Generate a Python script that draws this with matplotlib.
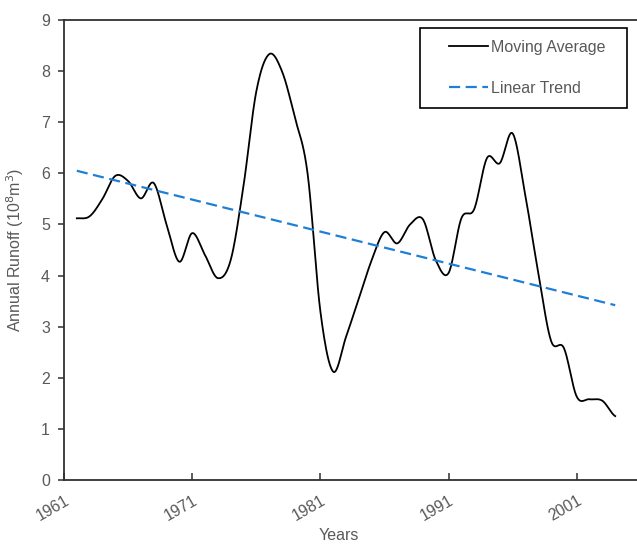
import numpy as np
import matplotlib
matplotlib.use("Agg")
import matplotlib.pyplot as plt
import matplotlib.transforms as mtransforms
from matplotlib.lines import Line2D
from matplotlib.legend_handler import HandlerLine2D

plt.rcParams['font.family'] = ['Liberation Sans', 'DejaVu Sans']

# annual runoff, 5-year moving average (10^8 m3)
years = np.arange(1962, 2005)
moving_avg = [5.12, 5.16, 5.50, 5.95, 5.85, 5.51, 5.81, 5.00, 4.27, 4.83,
              4.40, 3.95, 4.30, 5.75, 7.60, 8.33, 8.00, 7.10, 6.00, 3.30,
              2.12, 2.80, 3.55, 4.30, 4.85, 4.63, 5.00, 5.10, 4.30, 4.05,
              5.12, 5.30, 6.30, 6.20, 6.78, 5.55, 4.05, 2.72, 2.58, 1.63,
              1.58, 1.55, 1.25]
trend_years = [1962, 2004]
trend_vals = [6.05, 3.42]
xtick_years = [1961, 1971, 1981, 1991, 2001]


def smooth(x, y, n=20):
    # catmull-rom curve through the yearly points, like a smoothed line chart
    x = np.asarray(x, float)
    y = np.asarray(y, float)
    px = np.concatenate([[2 * x[0] - x[1]], x, [2 * x[-1] - x[-2]]])
    py = np.concatenate([[y[0]], y, [y[-1]]])
    xs, ys = [], []
    t = np.linspace(0, 1, n, endpoint=False)
    for i in range(1, len(px) - 2):
        for p, out in ((px, xs), (py, ys)):
            p0, p1, p2, p3 = p[i - 1], p[i], p[i + 1], p[i + 2]
            out.extend(0.5 * (2 * p1 + (-p0 + p2) * t
                              + (2 * p0 - 5 * p1 + 4 * p2 - p3) * t ** 2
                              + (-p0 + 3 * p1 - 3 * p2 + p3) * t ** 3))
    xs.append(x[-1])
    ys.append(y[-1])
    return np.array(xs), np.array(ys)


fig = plt.figure(figsize=(6.37, 5.47), dpi=100)
ax = fig.add_axes([64 / 637, 67 / 547, 573 / 637, 460 / 547])

sx, sy = smooth(years, moving_avg)
ax.plot(sx, sy, color='black', lw=1.3, label='Moving Average  ')
ax.plot(trend_years, trend_vals, color='#1f7fd6', lw=1.6,
        dashes=(5, 2.5), label='Linear Trend')

ax.set_xlim(1961, 2005.7)
ax.set_ylim(0, 9)
ax.set_yticks(range(10))
ax.set_xticks(xtick_years)
ax.set_xticklabels([str(y) for y in xtick_years], rotation=30,
                   ha='right', rotation_mode='anchor')
shift = mtransforms.ScaledTranslation(-5 / 100, 0, fig.dpi_scale_trans)
for lab in ax.get_xticklabels():
    lab.set_transform(lab.get_transform() + shift)

grey = '#595959'
ax.tick_params(axis='x', direction='in', length=5, width=1.2, colors='#404040',
               labelcolor=grey, labelsize=11.5, pad=9)
ax.tick_params(axis='y', direction='out', length=4, width=1.2, colors='#404040',
               labelcolor=grey, labelsize=11.5, pad=6)
for side in ('left', 'bottom', 'top'):
    ax.spines[side].set_color('#303030')
    ax.spines[side].set_linewidth(1.3)
ax.spines['right'].set_visible(False)

ax.set_ylabel('Annual Runoff (10$^{8}$m$^{3}$)', color=grey, fontsize=11.5)
ax.yaxis.set_label_coords(-0.066, 0.5)
ax.set_xlabel('Years', color=grey, fontsize=11.5)
ax.xaxis.set_label_coords(0.48, -0.104)

leg = ax.legend(loc='upper right', bbox_to_anchor=(0.9825, 0.9826),
                fancybox=False, framealpha=1, edgecolor='black',
                fontsize=11.5, handlelength=3.45, handletextpad=0.25,
                labelspacing=1.6, borderpad=0.75, borderaxespad=0,
                handler_map={Line2D: HandlerLine2D(xpad=1.05)})
leg.get_frame().set_linewidth(1.2)
for txt in leg.get_texts():
    txt.set_color(grey)

fig.savefig('out.png', dpi=100)
